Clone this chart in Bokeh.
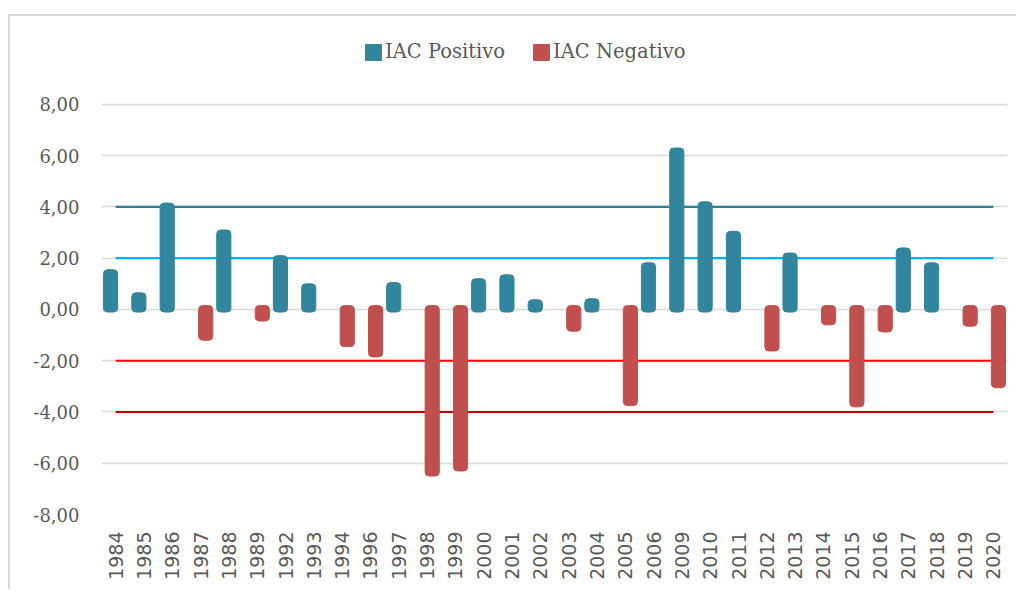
from bokeh.plotting import figure
from bokeh.models import (ColumnDataSource, FactorRange, Range1d, FixedTicker,
                          Legend, LegendItem)
from bokeh.transform import dodge
from bokeh.embed import file_html
from bokeh.resources import INLINE

years = ["1984", "1985", "1986", "1987", "1988", "1989", "1992", "1993", "1994",
         "1996", "1997", "1998", "1999", "2000", "2001", "2002", "2003", "2004",
         "2005", "2006", "2009", "2010", "2011", "2012", "2013", "2014", "2015",
         "2016", "2017", "2018", "2019", "2020"]
iac = [1.55, 0.65, 4.15, -1.2, 3.1, -0.45, 2.1, 1.0, -1.45,
       -1.85, 1.05, -6.5, -6.3, 1.2, 1.35, 0.38, -0.85, 0.42,
       -3.75, 1.82, 6.3, 4.2, 3.05, -1.62, 2.2, -0.6, -3.8,
       -0.88, 2.4, 1.82, -0.65, -3.05]
y_ticks = [-8, -6, -4, -2, 0, 2, 4, 6, 8]
y_labels = ["-8,00", "-6,00", "-4,00", "-2,00", "0,00", "2,00", "4,00", "6,00", "8,00"]
thresholds = [4, 2, -2, -4]
threshold_colors = ["#2E7F97", "#00B0F0", "#FF0000", "#C00000"]

pos_x = [y for y, v in zip(years, iac) if v > 0]
pos_v = [v for v in iac if v > 0]
neg_x = [y for y, v in zip(years, iac) if v < 0]
neg_v = [v for v in iac if v < 0]

pos_src = ColumnDataSource(dict(x=pos_x, top=pos_v, bottom=[-0.1] * len(pos_v)))
neg_src = ColumnDataSource(dict(x=neg_x, top=[0.15] * len(neg_v), bottom=neg_v))

p = figure(width=1008, height=575, x_range=FactorRange(factors=years),
           y_range=Range1d(-8, 11.08), output_backend="svg", toolbar_location=None,
           min_border_left=91, min_border_right=11, min_border_top=9,
           min_border_bottom=77)
p.styles = {"border-top": "2px solid #D9D9D9", "border-left": "2px solid #D9D9D9",
            "margin-top": "14px", "margin-left": "8px"}
p.outline_line_color = None
p.background_fill_color = "white"
p.border_fill_color = "white"

# threshold lines
for t, c in zip(thresholds, threshold_colors):
    p.line(x=[years[0], years[-1]], y=[t, t], line_color=c, line_width=2.2)

rp = p.vbar(x=dodge("x", -0.18, range=p.x_range), top="top", bottom="bottom",
            width=0.5, source=pos_src, fill_color="#31859C", line_color="#31859C",
            border_radius=4)
rn = p.vbar(x=dodge("x", 0.18, range=p.x_range), top="top", bottom="bottom",
            width=0.5, source=neg_src, fill_color="#C0504D", line_color="#C0504D",
            border_radius=4)

p.yaxis.ticker = FixedTicker(ticks=y_ticks)
p.yaxis.major_label_overrides = {t: l for t, l in zip(y_ticks, y_labels)}
p.yaxis.axis_line_color = None
p.yaxis.major_tick_line_color = None
p.yaxis.minor_tick_line_color = None
p.yaxis.major_label_text_font = "DejaVu Serif"
p.yaxis.major_label_text_font_size = "18px"
p.yaxis.major_label_text_color = "#595959"
p.yaxis.major_label_standoff = 16

p.xaxis.axis_line_color = None
p.xaxis.major_tick_line_color = None
p.xaxis.major_label_orientation = 1.5708
p.xaxis.major_label_text_font = "DejaVu Sans"
p.xaxis.major_label_text_font_size = "19px"
p.xaxis.major_label_text_color = "#595959"
p.xaxis.major_label_standoff = 11

p.xgrid.grid_line_color = None
p.ygrid.ticker = FixedTicker(ticks=y_ticks)
p.ygrid.grid_line_color = "#D9D9D9"
p.ygrid.grid_line_width = 1.5

legend = Legend(items=[LegendItem(label="IAC Positivo", renderers=[rp]),
                       LegendItem(label="IAC Negativo", renderers=[rn])],
                orientation="horizontal", location=(262, 451),
                glyph_width=20, glyph_height=20, label_standoff=2, spacing=26,
                padding=0, margin=0, border_line_color=None,
                background_fill_alpha=0,
                label_text_font="DejaVu Serif", label_text_font_size="19.5px",
                label_text_color="#595959", label_height=20)
p.add_layout(legend, "center")

open("out.html", "w").write(file_html(p, INLINE))
